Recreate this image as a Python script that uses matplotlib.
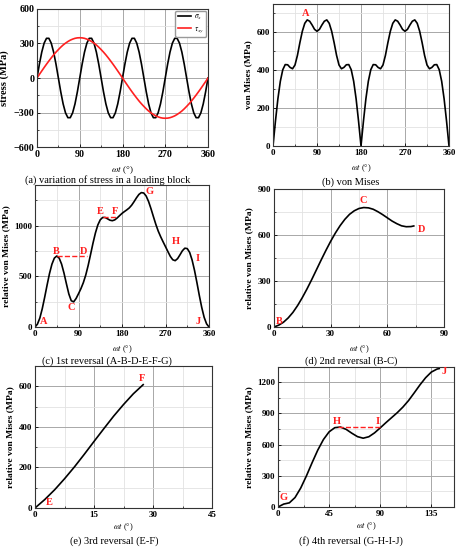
import matplotlib
matplotlib.use('Agg')
import matplotlib.pyplot as plt
from matplotlib.ticker import MultipleLocator

plt.rcParams['font.family'] = ['Liberation Serif', 'DejaVu Serif']
plt.rcParams['mathtext.fontset'] = 'stix'

# ---- data ----
# (a) stress in one loading block, every 5 deg
angle = list(range(0, 361, 5))
sigma_x = [0, 120, 225, 303, 345, 345, 303, 225, 120, 0, -120, -225, -303, -345, -345, -303, -225, -120,
           0, 120, 225, 303, 345, 345, 303, 225, 120, 0, -120, -225, -303, -345, -345, -303, -225, -120,
           0, 120, 225, 303, 345, 345, 303, 225, 120, 0, -120, -225, -303, -345, -345, -303, -225, -120,
           0, 120, 225, 303, 345, 345, 303, 225, 120, 0, -120, -225, -303, -345, -345, -303, -225, -120, 0]
tau_xy = [0, 31, 61, 91, 120, 148, 175, 201, 225, 247, 268, 287, 303, 317, 329, 338, 345, 349, 350,
          349, 345, 338, 329, 317, 303, 287, 268, 247, 225, 201, 175, 148, 120, 91, 61, 31, 0,
          -31, -61, -91, -120, -148, -175, -201, -225, -247, -268, -287, -303, -317, -329, -338, -345, -349, -350,
          -349, -345, -338, -329, -317, -303, -287, -268, -247, -225, -201, -175, -148, -120, -91, -61, -31, 0]

# (b) von Mises
von_mises = [0, 131, 249, 342, 403, 430, 429, 415, 408, 428, 479, 546, 606, 648, 666, 659, 639, 616, 606,
             616, 639, 659, 666, 648, 606, 546, 479, 428, 408, 415, 429, 430, 403, 342, 249, 131, 0,
             131, 249, 342, 403, 430, 429, 415, 408, 428, 479, 546, 606, 648, 666, 659, 639, 616, 606,
             616, 639, 659, 666, 648, 606, 546, 479, 428, 408, 415, 429, 430, 403, 342, 249, 131, 0]

# (c) 1st reversal, relative von Mises
rel_c = [0, 28, 88, 180, 293, 413, 527, 619, 679, 700, 679, 620, 531, 426, 326, 259, 248, 281, 328,
         378, 437, 512, 607, 716, 827, 927, 1006, 1057, 1080, 1080, 1067, 1053, 1048, 1056, 1075, 1098, 1120,
         1138, 1155, 1174, 1201, 1236, 1274, 1307, 1325, 1321, 1291, 1237, 1166, 1088, 1012, 945, 890, 840, 792,
         743, 696, 663, 654, 674, 712, 752, 777, 773, 735, 661, 559, 438, 310, 192, 95, 31, 0]

# (d) 2nd reversal
x_d = [0, 2.5, 5, 7.5, 10, 12.5, 15, 17.5, 20, 22.5, 25, 27.5, 30, 32.5, 35, 37.5, 40, 42.5, 45, 47.5,
       50, 52.5, 55, 57.5, 60, 62.5, 65, 67.5, 70, 72.5, 74]
rel_d = [0, 12, 31, 59, 95, 140, 192, 249, 310, 374, 438, 500, 559, 613, 661, 702, 735, 758, 773, 779,
         777, 768, 752, 733, 712, 691, 674, 660, 654, 655, 659]

# (e) 3rd reversal
x_e = [0, 2.5, 5, 7.5, 10, 12.5, 15, 17.5, 20, 22.5, 25, 27.5]
rel_e = [0, 42, 90, 144, 202, 264, 328, 391, 453, 510, 563, 608]

# (f) 4th reversal
x_f = [0, 5, 10, 15, 20, 25, 30, 35, 40, 45, 50, 55, 60, 65, 70, 75, 80, 85, 90, 95,
       100, 105, 110, 115, 120, 125, 130, 135, 140, 142]
rel_f = [0, 28, 40, 91, 182, 298, 425, 546, 648, 722, 762, 768, 746, 709, 676, 661, 675, 712, 760, 810,
         858, 906, 960, 1023, 1097, 1173, 1242, 1296, 1325, 1330]

RED = '#ff2020'
W, H = 462, 550


def box(l, r, t, b):
    return [l / W, 1 - b / H, (r - l) / W, (b - t) / H]


def style(ax, xlim, xstep, ylim, ystep, ylabel, fs=6.5, xpad=4):
    ax.set_xlim(xlim)
    ax.set_ylim(ylim)
    ax.xaxis.set_major_locator(MultipleLocator(xstep))
    ax.xaxis.set_minor_locator(MultipleLocator(xstep / 2))
    ax.yaxis.set_major_locator(MultipleLocator(ystep))
    ax.yaxis.set_minor_locator(MultipleLocator(ystep / 2))
    ax.grid(which='major', color='#a8a8a8', lw=0.7)
    ax.grid(which='minor', color='#e2e2e2', lw=0.6)
    ax.set_axisbelow(True)
    ax.tick_params(which='major', direction='in', length=2.5, width=0.6, labelsize=fs, pad=2)
    ax.tick_params(which='minor', direction='in', length=1.5, width=0.5)
    for t in ax.get_xticklabels() + ax.get_yticklabels():
        t.set_fontweight('bold')
    for s in ax.spines.values():
        s.set_linewidth(0.8)
        s.set_color('#333333')
    ax.set_ylabel(ylabel, fontsize=fs + 0.3, fontweight='bold', labelpad=3)
    ax.set_xlabel(r'$\omega t$ (°)', fontsize=fs - 0.5, labelpad=xpad)


def lab(ax, x, y, s):
    ax.text(x, y, s, color=RED, fontsize=7.5, fontweight='bold', ha='center', va='center')


def caption(x, y, s):
    fig.text(x / W, 1 - y / H, s, fontsize=7.5, ha='center', va='center')


fig = plt.figure(figsize=(W / 100, H / 100), dpi=100)

# (a)
ax = fig.add_axes(box(37, 208, 9, 147))
ax.plot(angle, sigma_x, color='black', lw=1.2, label=r'$\sigma_x$')
ax.plot(angle, tau_xy, color=RED, lw=1.2, label=r'$\tau_{xy}$')
style(ax, (0, 360), 90, (-600, 600), 300, 'stress (MPa)', fs=7.2)
ax.legend(loc='upper right', fontsize=5.5, handlelength=1.8, handletextpad=0.4, borderpad=0.3,
          borderaxespad=0.2, labelspacing=0.3, edgecolor='#999999', framealpha=1)
caption(108, 180, '(a) variation of stress in a loading block')

# (b)
ax = fig.add_axes(box(273, 449, 4, 146))
ax.plot(angle, von_mises, color='black', lw=1.2)
style(ax, (0, 360), 90, (0, 750), 200, 'von Mises (MPa)')
ax.yaxis.set_minor_locator(MultipleLocator(100))
lab(ax, 67, 700, 'A')
caption(351, 182, '(b) von Mises')

# (c)
ax = fig.add_axes(box(35, 209, 185, 327))
ax.plot(angle, rel_c, color='black', lw=1.2)
ax.plot([45, 108], [700, 700], color=RED, lw=1.0, ls='--')
ax.plot([140, 168], [1080, 1080], color=RED, lw=1.0, ls='--')
style(ax, (0, 360), 90, (0, 1400), 500, 'relative von Mises (MPa)')
for x, y, s in [(17, 50, 'A'), (43, 742, 'B'), (75, 188, 'C'), (101, 742, 'D'), (135, 1139, 'E'),
                (166, 1139, 'F'), (236, 1337, 'G'), (292, 842, 'H'), (337, 673, 'I'), (337, 50, 'J')]:
    lab(ax, x, y, s)
caption(107, 361, '(c) 1st reversal (A-B-D-E-F-G)')

# (d)
ax = fig.add_axes(box(274, 444, 189, 327))
ax.plot(x_d, rel_d, color='black', lw=1.2)
style(ax, (0, 90), 30, (0, 900), 300, 'relative von Mises (MPa)')
lab(ax, 3, 33, 'B')
lab(ax, 47, 822, 'C')
lab(ax, 78, 639, 'D')
caption(351, 361, '(d) 2nd reversal (B-C)')

# (e)
ax = fig.add_axes(box(35, 212, 366, 508))
ax.plot(x_e, rel_e, color='black', lw=1.2)
style(ax, (0, 45), 15, (0, 700), 200, 'relative von Mises (MPa)', xpad=2)
ax.yaxis.set_minor_locator(MultipleLocator(100))
lab(ax, 3.6, 25, 'E')
lab(ax, 27.2, 640, 'F')
caption(114, 541, '(e) 3rd reversal (E-F)')

# (f)
ax = fig.add_axes(box(278, 454, 367, 507))
ax.plot(x_f, rel_f, color='black', lw=1.2)
ax.plot([53, 90], [770, 770], color=RED, lw=1.0, ls='--')
style(ax, (0, 155), 45, (0, 1345), 300, 'relative von Mises (MPa)', xpad=2)
lab(ax, 5, 95, 'G')
lab(ax, 52, 826, 'H')
lab(ax, 88, 826, 'I')
lab(ax, 146, 1300, 'J')
caption(351, 541, '(f) 4th reversal (G-H-I-J)')

fig.savefig('out.png', dpi=100)
